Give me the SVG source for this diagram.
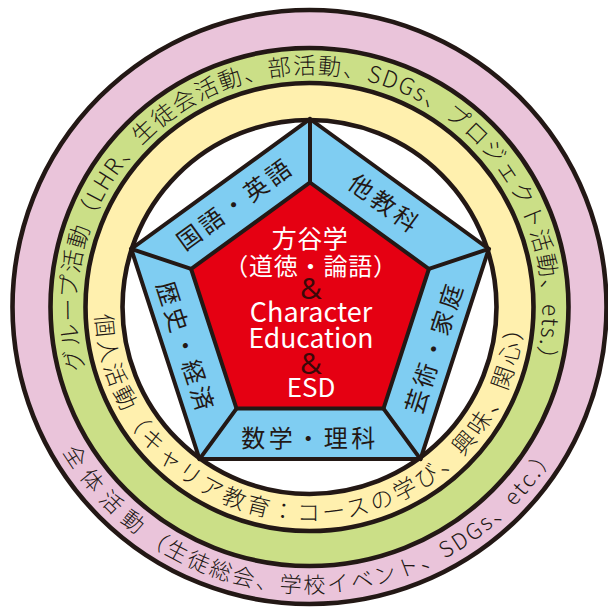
<svg xmlns="http://www.w3.org/2000/svg" width="608" height="611" viewBox="0 0 608 611">
<style>
.ring{stroke:#231815;stroke-width:4.6}
.pent{stroke:#231815;stroke-width:4;stroke-linejoin:miter}
.div{stroke:#231815;stroke-width:4;stroke-linecap:round}
.jp{font-family:"Noto Sans CJK JP","Noto Sans",sans-serif;fill:#231815}
.rt{font-weight:300}
.band{font-size:24px;letter-spacing:3.5px;text-anchor:middle;dominant-baseline:central}
.ctr{font-family:"Noto Sans CJK JP","Noto Sans",sans-serif;fill:#ffffff;text-anchor:middle}
.amp{font-family:"Open Sans","Noto Sans",sans-serif;font-weight:400;fill:#3a0808}
</style>
<defs>
<path id="pPink" d="M 309.5,21 A 286,286 0 0 0 309.5,593 A 286,286 0 0 0 309.5,21"/>
<path id="pGreen" d="M 309.5,540 A 233,233 0 0 1 309.5,74 A 233,233 0 0 1 309.5,540"/>
<path id="pYellow" d="M 309.5,93 A 214,214 0 0 0 309.5,521 A 214,214 0 0 0 309.5,93"/>
</defs>

<g id="ring-whole">
<circle class="ring" cx="309.5" cy="307" r="297" fill="#eac4da"/>
<text class="jp rt" font-size="22"><textPath href="#pPink" startOffset="50%" text-anchor="middle"><tspan letter-spacing="8">全体活動</tspan><tspan letter-spacing="2.5">（生徒総会、学校イベント、SDGs、etc.）</tspan></textPath></text>
</g>

<g id="ring-group">
<circle class="ring" cx="309.5" cy="307" r="259" fill="#cbdf87"/>
<text class="jp rt" font-size="23" letter-spacing="1.5"><textPath href="#pGreen" startOffset="50%" text-anchor="middle">グループ活動（LHR、生徒会活動、部活動、SDGs、プロジェクト活動、ets.）</textPath></text>
</g>

<g id="ring-individual">
<circle class="ring" cx="309.5" cy="307" r="224" fill="#fff0ae"/>
<text class="jp rt" font-size="23" letter-spacing="3.3"><textPath href="#pYellow" startOffset="50%" text-anchor="middle">個人活動（キャリア教育：コースの学び、興味、関心）</textPath></text>
</g>

<g id="inner-area">
<circle class="ring" cx="309.5" cy="307" r="187" fill="#ffffff"/>
</g>

<g id="subjects">
<polygon class="pent" points="310,119 488.8,248.9 420.5,459.1 199.5,459.1 131.2,248.9" fill="#7fcdf2"/>
</g>

<g id="connectors">
<line class="div" x1="310" y1="119" x2="310" y2="182.5"/>
<line class="div" x1="488.8" y1="248.9" x2="428.9" y2="268.9"/>
<line class="div" x1="420.5" y1="459.1" x2="383.5" y2="408.6"/>
<line class="div" x1="199.5" y1="459.1" x2="236.5" y2="408.6"/>
<line class="div" x1="131.2" y1="248.9" x2="191.1" y2="268.9"/>
</g>

<g id="subj-kokugo"><text class="jp band" transform="translate(234.2,202.6) rotate(-36)">国語・英語</text></g>
<g id="subj-other"><text class="jp band" transform="translate(385.8,202.6) rotate(36)">他教科</text></g>
<g id="subj-art"><text class="jp band" transform="translate(432.7,346.9) rotate(-72)">芸術・家庭</text></g>
<g id="subj-history"><text class="jp band" transform="translate(187.3,346.9) rotate(72)">歴史・経済</text></g>
<g id="subj-math"><text class="jp band" transform="translate(310,436)">数学・理科</text></g>

<g id="core">
<polygon class="pent" points="310,182.5 428.9,268.9 383.5,408.6 236.5,408.6 191.1,268.9" fill="#e50012"/>
<text class="ctr" x="310" y="248" font-size="25" letter-spacing="0.5">方谷学</text>
<text class="ctr" x="311" y="275" font-size="24" letter-spacing="0.8">（道徳・論語）</text>
<text class="ctr amp" x="311" y="299" font-size="30">&amp;</text>
<text class="ctr" x="311" y="322" font-size="27">Character</text>
<text class="ctr" x="311" y="348" font-size="26.5">Education</text>
<text class="ctr amp" x="311" y="374" font-size="30">&amp;</text>
<text class="ctr" x="311" y="397" font-size="26">ESD</text>
</g>
</svg>
